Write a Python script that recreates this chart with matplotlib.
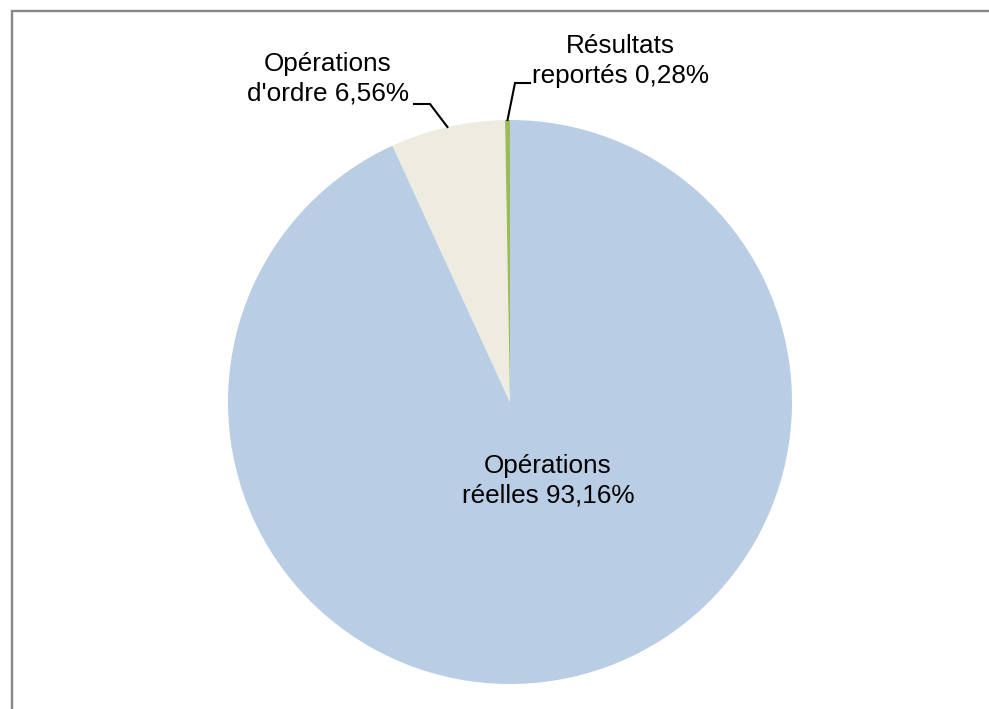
import numpy as np
import matplotlib
matplotlib.use('Agg')
import matplotlib.pyplot as plt
from matplotlib.patches import Rectangle

# data
labels = ['Opérations\nréelles 93,16%', "Opérations\nd'ordre 6,56%", 'Résultats\nreportés 0,28%']
values = [93.16, 6.56, 0.28]
colors = ['#B9CDE5', '#EEECE1', '#9BBB59']

W, H = 989, 709
fig = plt.figure(figsize=(W / 100, H / 100), dpi=100)
plt.rcParams['font.family'] = ['Liberation Sans', 'DejaVu Sans']

# gray frame, clipped by the figure on the right and bottom
fig.patches.append(Rectangle((12 / W, -0.05), 1.1, 1 - 11 / H + 0.05, transform=fig.transFigure,
                             fill=False, edgecolor='#878787', linewidth=1.7))

ax = fig.add_axes([0, 0, 1, 1])
cx, cy, r = 510, H - 402, 282
wedges, _ = ax.pie(values, colors=colors, startangle=90, counterclock=False,
                   center=(cx, cy), radius=r, wedgeprops=dict(linewidth=0))
ax.set_xlim(0, W)
ax.set_ylim(0, H)
ax.set_aspect('equal')
ax.axis('off')

# label positions (pixel coordinates from top-left)
text_pos = [(548, 481), (328, 79), (620, 61)]
leader_elbow = [None, (430, 104), (515, 83)]
leader_end = [None, (414, 104), (530, 83)]

for i, lab in enumerate(labels):
    tx, ty = text_pos[i]
    ax.text(tx, H - ty, lab, ha='center', va='center', fontsize=18.8,
            color='black', linespacing=1.3)
    if leader_elbow[i] is not None:
        w = wedges[i]
        mid = np.deg2rad((w.theta1 + w.theta2) / 2)
        ex, ey = cx + r * np.cos(mid), cy + r * np.sin(mid)
        bx, by = leader_elbow[i]
        sx, sy = leader_end[i]
        ax.plot([ex, bx, sx], [ey, H - by, H - sy], color='black', lw=1.5,
                solid_joinstyle='miter')

plt.savefig('out.png', dpi=100)
